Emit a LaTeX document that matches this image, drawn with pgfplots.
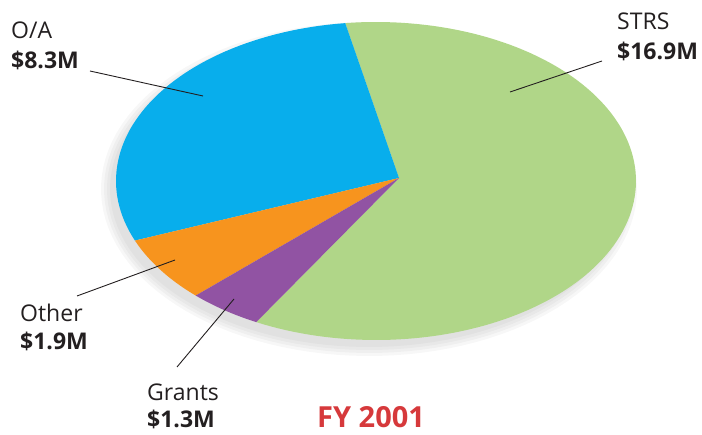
\documentclass[border=0pt]{standalone}
\usepackage{pgfplots}
\pgfplotsset{compat=1.18}
\usepackage{fontspec}
\setmainfont{Open Sans}
\definecolor{strs}{RGB}{176,214,136}
\definecolor{oa}{RGB}{8,174,236}
\definecolor{other}{RGB}{247,148,30}
\definecolor{grants}{RGB}{145,83,163}
\definecolor{titlered}{RGB}{214,57,59}
\definecolor{txt}{RGB}{35,31,32}
% values (millions of dollars)
\def\vOA{8.3}
\def\vOther{1.9}
\def\vGrants{1.3}
\def\vSTRS{16.9}
\begin{document}
\begin{tikzpicture}
\pgfmathsetmacro\tot{\vOA+\vOther+\vGrants+\vSTRS}
\pgfmathsetmacro\aA{96.8}
\pgfmathsetmacro\aB{\aA+360*\vOA/\tot}
\pgfmathsetmacro\aC{\aB+360*\vOther/\tot}
\pgfmathsetmacro\aD{\aC+360*\vGrants/\tot}
\pgfmathsetmacro\aE{\aD+360*\vSTRS/\tot}
\begin{axis}[
  width=702pt, height=435pt, scale only axis,
  xmin=0, xmax=702, ymin=0, ymax=435, y dir=reverse,
  hide axis, clip=false,
]
\path (axis cs:0,0) rectangle (axis cs:702,435);
% soft shadow (lower left)
\foreach \k in {10,7,4,1}{
  \addplot[fill=black, fill opacity=0.03, draw=none, domain=0:360, samples=120, variable=\t]
    ({369+(258+\k)*cos(t)}, {189-(157+\k)*sin(t)});
}
\addplot[fill=strs, draw=none, domain=\aD:\aE, samples=120, variable=\t]
  ({376+260*cos(t)}, {181-159*sin(t)}) -- (axis cs:399,178) -- cycle;
\addplot[fill=oa, draw=none, domain=\aA:\aB, samples=60, variable=\t]
  ({376+260*cos(t)}, {181-159*sin(t)}) -- (axis cs:399,178) -- cycle;
\addplot[fill=other, draw=none, domain=\aB:\aC, samples=30, variable=\t]
  ({376+260*cos(t)}, {181-159*sin(t)}) -- (axis cs:399,178) -- cycle;
\addplot[fill=grants, draw=none, domain=\aC:\aD, samples=30, variable=\t]
  ({376+260*cos(t)}, {181-159*sin(t)}) -- (axis cs:399,178) -- cycle;
% leader lines
\addplot[txt, line width=0.9pt] coordinates {(90,71) (203,96)};
\addplot[txt, line width=0.9pt] coordinates {(602,61) (510,92)};
\addplot[txt, line width=0.9pt] coordinates {(77,296) (175,260)};
\addplot[txt, line width=0.9pt] coordinates {(177,367) (234,299)};
% labels
\begin{scope}[every node/.style={anchor=base west, inner sep=0pt, text=txt, font=\fontsize{23}{27}\selectfont}]
\node at (axis cs:11,39) {O/A};
\node at (axis cs:11,69) {\bfseries \$8.3M};
\node at (axis cs:617,30) {STRS};
\node at (axis cs:617,60) {\bfseries \$16.9M};
\node at (axis cs:20,322) {Other};
\node at (axis cs:20,350) {\bfseries \$1.9M};
\node at (axis cs:147,401) {Grants};
\node at (axis cs:147,428) {\bfseries \$1.3M};
\end{scope}
\node[anchor=base west, inner sep=0pt, text=titlered, font=\fontsize{29}{33}\selectfont\bfseries] at (axis cs:317,428) {FY 2001};
\end{axis}
\end{tikzpicture}
\end{document}
